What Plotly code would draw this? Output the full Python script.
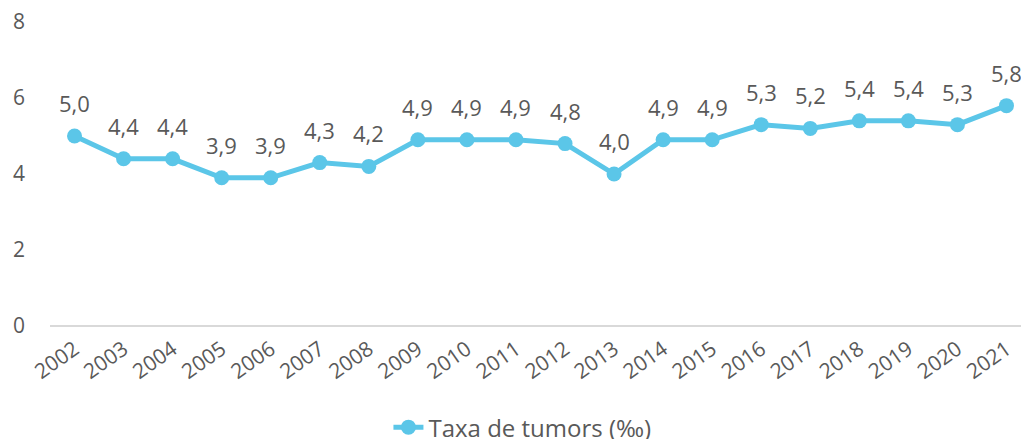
import plotly.graph_objects as go

years = [str(y) for y in range(2002, 2022)]
values = [5.0, 4.4, 4.4, 3.9, 3.9, 4.3, 4.2, 4.9, 4.9, 4.9, 4.8, 4.0, 4.9, 4.9, 5.3, 5.2, 5.4, 5.4, 5.3, 5.8]
series_name = "Taxa de tumors (‰)"
y_ticks = [0, 2, 4, 6, 8]

color = "#5BC6E8"
font_color = "#595959"
font_family = "Open Sans"

fig = go.Figure()
fig.add_trace(go.Scatter(
    x=years, y=values, name=series_name,
    mode="lines+markers",
    line=dict(color=color, width=5),
    marker=dict(color=color, size=15),
    cliponaxis=False,
))

# category axis: annotation x is the category's serial index
for i, v in enumerate(values):
    fig.add_annotation(
        x=i, y=v, text=f"{v:.1f}".replace(".", ","),
        showarrow=False, yshift=33, yanchor="middle",
        font=dict(family=font_family, size=22, color=font_color),
    )

fig.update_layout(
    width=1029, height=439,
    margin=dict(l=42, r=6, t=14, b=121, autoexpand=False),
    paper_bgcolor="white", plot_bgcolor="white",
    font=dict(family=font_family, size=20, color=font_color),
    showlegend=True,
    legend=dict(orientation="h", x=0.345, xanchor="left", y=-0.26, yanchor="top",
                font=dict(size=24, color=font_color)),
    xaxis=dict(type="category", tickangle=-35, showgrid=False, zeroline=False,
               showline=False, ticks="", automargin=False,
               range=[-0.5, len(years) - 0.5], ticklabelstandoff=6,
               tickfont=dict(size=21, color=font_color)),
    yaxis=dict(range=[0, 8.001], tickvals=y_ticks, showgrid=False, zeroline=True,
               zerolinecolor="#d9d9d9", zerolinewidth=2, showline=False,
               automargin=False, ticklabelstandoff=24, ticklabeloverflow="allow",
               tickfont=dict(size=21, color=font_color)),
)

fig.write_html("out.html", config={"displayModeBar": False})
